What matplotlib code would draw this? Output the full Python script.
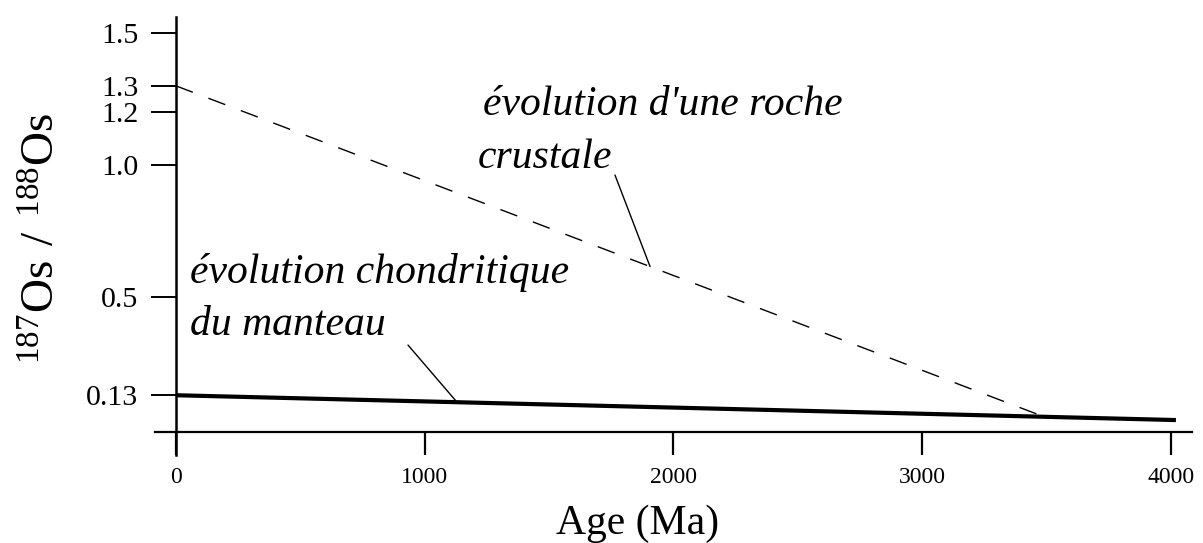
import matplotlib
matplotlib.use("Agg")
import matplotlib.pyplot as plt
import numpy as np

# data
ages_mantle = [0, 4020]
os_mantle = [0.128, 0.034]
ages_crust = [0, 3480]
os_crust = [1.30, 0.05]

x_ticks = [0, 1000, 2000, 3000, 4000]
y_ticks = [0.13, 0.5, 1.0, 1.2, 1.3, 1.5]
y_labels = ["0.13", "0.5", "1.0", "1.2", "1.3", "1.5"]

plt.rcParams['font.family'] = ['Liberation Serif', 'DejaVu Serif']
plt.rcParams['mathtext.fontset'] = 'custom'
plt.rcParams['mathtext.rm'] = 'Liberation Serif'

fig = plt.figure(figsize=(12.03, 5.43), dpi=100)
ax = fig.add_axes([0.1288, 0.162, 0.862, 0.8066])

ax.plot(ages_mantle, os_mantle, color='black', lw=3.0, solid_capstyle='butt')
ax.plot(ages_crust, os_crust, color='black', lw=1.0, dashes=(13, 12))

ax.set_xlim(-84.4, 4084.4)
ax.set_ylim(-0.0985, 1.5606)

for s in ['top', 'right']:
    ax.spines[s].set_visible(False)
ax.spines['left'].set_position(('data', 0))
ax.spines['bottom'].set_position(('data', -0.011))
ax.spines['left'].set_linewidth(1.8)
ax.spines['bottom'].set_linewidth(1.6)

ax.set_yticks(y_ticks)
ax.set_yticklabels(y_labels)
ax.set_xticks(x_ticks)
ax.set_xticklabels([str(v) for v in x_ticks])
ax.tick_params(axis='y', direction='out', length=18, width=1.4, pad=9, labelsize=21.5)
ax.tick_params(axis='x', direction='out', length=16.5, width=1.6, pad=8.5, labelsize=17)

ax.set_xlabel('Age (Ma)', fontsize=30, va='center')
ax.xaxis.set_label_coords(0.4658, -0.158)
ax.set_ylabel(r'$\mathregular{^{187}Os\ /\ ^{188}Os}$', fontsize=34, va='center')
ax.yaxis.set_label_coords(-0.108, 0.4954)

# annotations
tstyle = dict(fontsize=30, style='italic', va='baseline')
ax.text(56, 0.553, 'évolution chondritique', ha='left', **tstyle)
ax.text(56, 0.356, 'du manteau', ha='left', **tstyle)
ax.text(2680, 1.189, "évolution d'une roche", ha='right', **tstyle)
ax.text(1752, 0.989, 'crustale', ha='right', **tstyle)

x_m = 1130
ax.annotate('', xy=(x_m, np.interp(x_m, ages_mantle, os_mantle)), xytext=(933, 0.318),
            arrowprops=dict(arrowstyle='-', color='black', lw=1.0, shrinkA=0, shrinkB=0))
x_c = 1906
ax.annotate('', xy=(x_c, np.interp(x_c, ages_crust, os_crust)), xytext=(1765, 0.962),
            arrowprops=dict(arrowstyle='-', color='black', lw=1.0, shrinkA=0, shrinkB=0))

fig.savefig('out.png', dpi=100)
